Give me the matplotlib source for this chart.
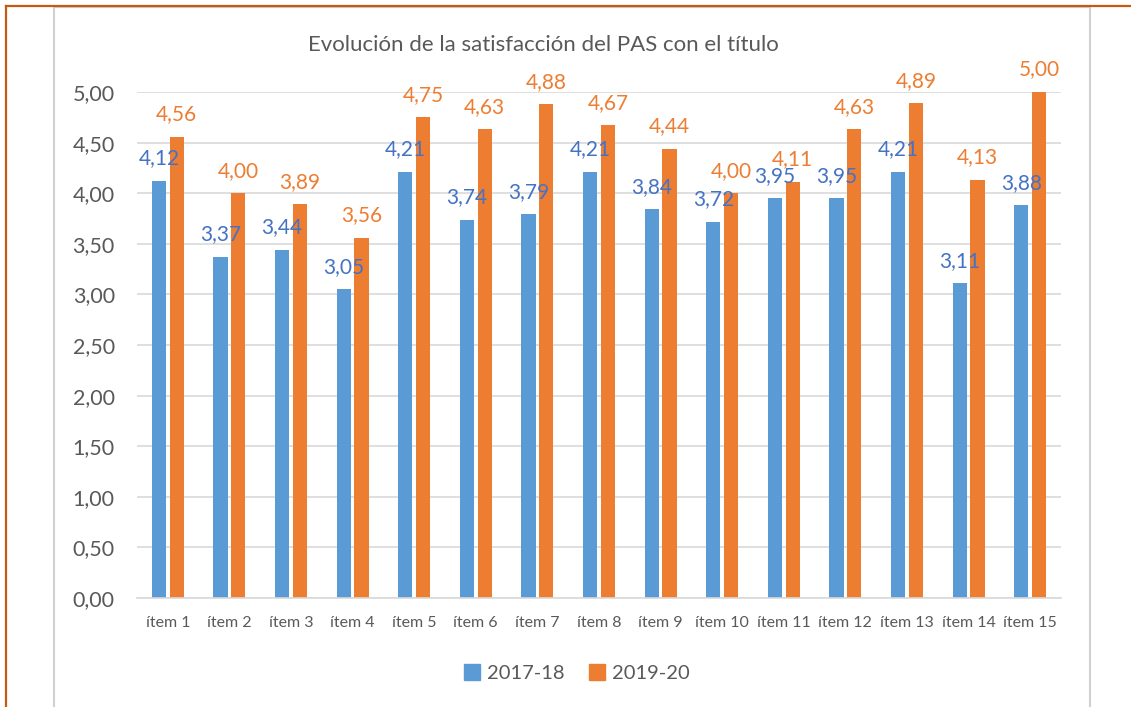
import matplotlib.pyplot as plt
import numpy as np
from matplotlib.lines import Line2D
from matplotlib.patches import Patch

# Chart data
items = ["ítem %d" % i for i in range(1, 16)]
vals_1718 = [4.12, 3.37, 3.44, 3.05, 4.21, 3.74, 3.79, 4.21, 3.84, 3.72,
             3.95, 3.95, 4.21, 3.11, 3.88]
vals_1920 = [4.56, 4.00, 3.89, 3.56, 4.75, 4.63, 4.88, 4.67, 4.44, 4.00,
             4.11, 4.63, 4.89, 4.13, 5.00]
series_labels = ["2017-18", "2019-20"]
yticks = [0, 0.5, 1, 1.5, 2, 2.5, 3, 3.5, 4, 4.5, 5]

BLUE = "#5B9BD5"
ORANGE = "#ED7D31"
BLUE_TXT = "#4472C4"
GREY_TXT = "#595959"
GRID = "#D9D9D9"

plt.rcParams["font.family"] = ["Lato", "DejaVu Sans"]

W, H = 1131, 707
fig = plt.figure(figsize=(W / 100, H / 100), dpi=100)
ax = fig.add_axes([137 / W, 1 - 598 / H, (1061 - 137) / W, (598 - 92) / H])

x = np.arange(len(items))
bw = 0.23
off = 0.145
b1 = ax.bar(x - off, vals_1718, bw, color=BLUE, zorder=3)
b2 = ax.bar(x + off, vals_1920, bw, color=ORANGE, zorder=3)

def fmt(v):
    return ("%.2f" % v).replace(".", ",")

for bars, vals, col in [(b1, vals_1718, BLUE_TXT), (b2, vals_1920, ORANGE)]:
    for r, v in zip(bars, vals):
        ax.annotate(fmt(v), (r.get_x() + r.get_width() / 2, v),
                    xytext=(0, 9), textcoords="offset points",
                    ha="center", va="bottom", fontsize=15, color=col,
                    annotation_clip=False)

ax.set_xlim(-0.5, len(items) - 0.5)
ax.set_ylim(0, 5)
ax.set_yticks(yticks)
ax.set_yticklabels([fmt(v) for v in yticks], fontsize=15.5, color=GREY_TXT)
ax.set_xticks(x)
ax.set_xticklabels(items, fontsize=11.5, color=GREY_TXT)
ax.tick_params(axis="y", length=0, pad=16)
ax.tick_params(axis="x", length=0, pad=13)
for lab in ax.get_yticklabels():
    lab.set_clip_on(False)
ax.grid(axis="y", color=GRID, linewidth=1.2, zorder=0)
for s in ["top", "right", "left"]:
    ax.spines[s].set_visible(False)
ax.spines["bottom"].set_color(GRID)
ax.spines["bottom"].set_linewidth(1.2)
ax.spines["bottom"].set_zorder(4)

fig.text(543 / W, 1 - 45 / H, "Evolución de la satisfacción del PAS con el título",
         ha="center", va="center", fontsize=16, color=GREY_TXT)

handles = [Patch(color=BLUE), Patch(color=ORANGE)]
fig.legend(handles, series_labels, loc="center", bbox_to_anchor=(577 / W, 1 - 673 / H),
           ncol=2, frameon=False, fontsize=14.5, labelcolor=GREY_TXT,
           handlelength=0.8, handleheight=0.8, handletextpad=0.35, columnspacing=1.2)

# chart frame and page border
fig.add_artist(Line2D([54 / W, 54 / W], [0, 1 - 7 / H], color="#D0D0D0", lw=1.5))
fig.add_artist(Line2D([1090 / W, 1090 / W], [0, 1 - 7 / H], color="#D0D0D0", lw=1.5))
fig.add_artist(Line2D([54 / W, 1090 / W], [1 - 7 / H, 1 - 7 / H], color="#D0D0D0", lw=1.5))
fig.add_artist(Line2D([6 / W, 6 / W], [0, 1 - 6 / H], color="#C55A11", lw=1.6))
fig.add_artist(Line2D([6 / W, 1], [1 - 6 / H, 1 - 6 / H], color="#C55A11", lw=1.6))

fig.savefig("out.png", dpi=100)
